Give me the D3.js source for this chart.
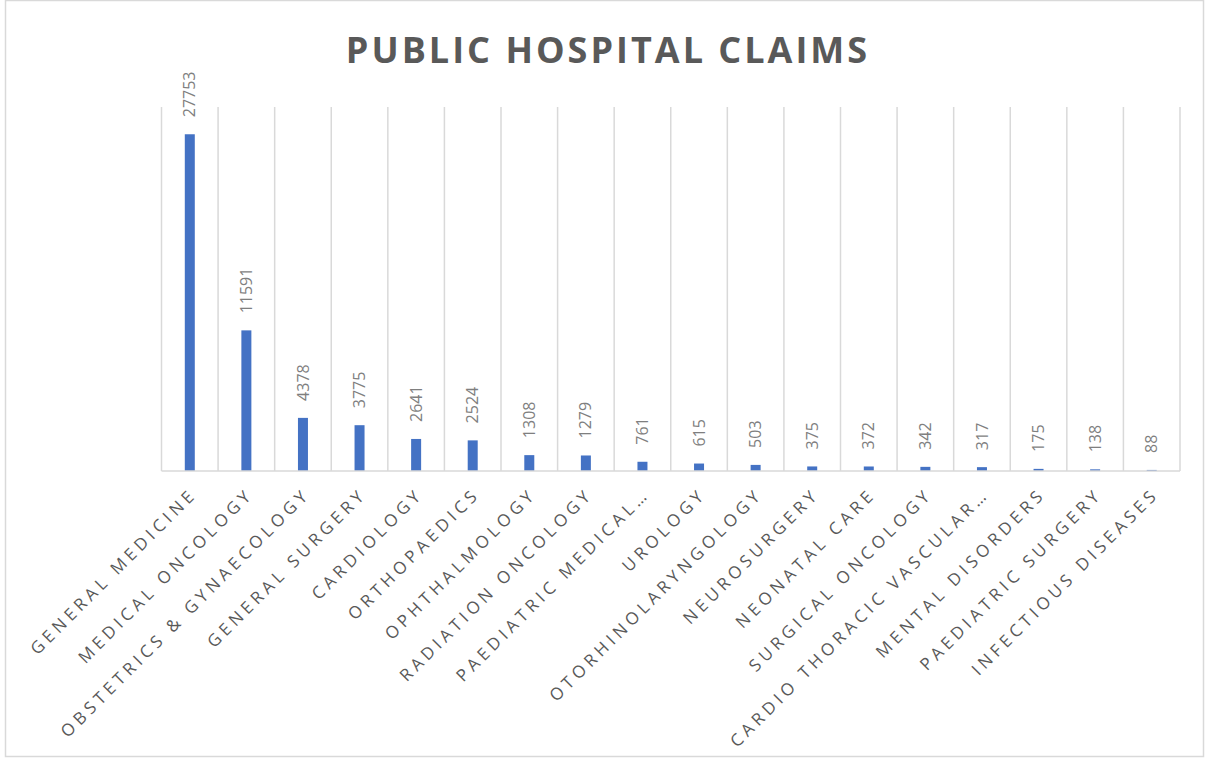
<!DOCTYPE html>
<html>
<head>
    <meta charset="utf-8">
    <title>Public Hospital Claims</title>
    <script src="https://d3js.org/d3.v7.min.js"></script>
    <style>
        body { margin: 0; background: #ffffff; }
        svg { display: block; font-family: "Open Sans", sans-serif; }
    </style>
</head>
<body>
    <svg width="1208" height="760"></svg>
    <script>
        // chart data
        const categories = [
            "GENERAL MEDICINE", "MEDICAL ONCOLOGY", "OBSTETRICS & GYNAECOLOGY",
            "GENERAL SURGERY", "CARDIOLOGY", "ORTHOPAEDICS", "OPHTHALMOLOGY",
            "RADIATION ONCOLOGY", "PAEDIATRIC MEDICAL…", "UROLOGY",
            "OTORHINOLARYNGOLOGY", "NEUROSURGERY", "NEONATAL CARE",
            "SURGICAL ONCOLOGY", "CARDIO THORACIC VASCULAR…", "MENTAL DISORDERS",
            "PAEDIATRIC SURGERY", "INFECTIOUS DISEASES"
        ];
        const claims = [27753, 11591, 4378, 3775, 2641, 2524, 1308, 1279, 761,
            615, 503, 375, 372, 342, 317, 175, 138, 88];
        const yMax = 30000;

        const svg = d3.select("svg");

        // outer chart border
        svg.append("rect")
            .attr("x", 5.5).attr("y", 0.5)
            .attr("width", 1198).attr("height", 756)
            .attr("fill", "white")
            .attr("stroke", "#d9d9d9")
            .attr("stroke-width", 1.5);

        // title
        svg.append("text")
            .attr("x", 608).attr("y", 63)
            .attr("text-anchor", "middle")
            .attr("fill", "#595959")
            .style("font-size", "36px")
            .style("font-weight", "bold")
            .style("letter-spacing", "3px")
            .text("PUBLIC HOSPITAL CLAIMS");

        // plot area
        const plotLeft = 161.5, plotRight = 1180, plotTop = 107, plotBottom = 471;

        const x = d3.scaleBand()
            .domain(categories)
            .range([plotLeft, plotRight]);

        const y = d3.scaleLinear()
            .domain([0, yMax])
            .range([plotBottom, plotTop]);

        // vertical gridlines between categories
        const edges = categories.map(c => x(c)).concat([plotRight]);
        svg.append("g").selectAll("line")
            .data(edges)
            .join("line")
            .attr("x1", d => d).attr("x2", d => d)
            .attr("y1", plotTop).attr("y2", plotBottom)
            .attr("stroke", "#d9d9d9")
            .attr("stroke-width", 1.5);

        // bars
        const barW = 10;
        svg.append("g").selectAll("rect")
            .data(claims)
            .join("rect")
            .attr("x", (d, i) => x(categories[i]) + x.bandwidth() / 2 - barW / 2)
            .attr("y", d => y(d))
            .attr("width", barW)
            .attr("height", d => plotBottom - y(d))
            .attr("fill", "#4472c4");

        // category axis line
        svg.append("line")
            .attr("x1", plotLeft).attr("x2", plotRight)
            .attr("y1", plotBottom).attr("y2", plotBottom)
            .attr("stroke", "#d9d9d9")
            .attr("stroke-width", 1.5);

        // value labels, rotated
        svg.append("g").selectAll("text")
            .data(claims)
            .join("text")
            .attr("transform", (d, i) => {
                const cx = x(categories[i]) + x.bandwidth() / 2;
                return `translate(${cx},${y(d) - 17}) rotate(-90)`;
            })
            .attr("dy", "0.35em")
            .attr("text-anchor", "start")
            .attr("fill", "#7f7f7f")
            .style("font-size", "16px")
            .text(d => d);

        // category labels at -45 degrees
        svg.append("g").selectAll("text")
            .data(categories)
            .join("text")
            .attr("transform", d => {
                const cx = x(d) + x.bandwidth() / 2;
                return `translate(${cx + 4},${plotBottom + 20}) rotate(-45)`;
            })
            .attr("dy", "0.35em")
            .attr("text-anchor", "end")
            .attr("fill", "#595959")
            .style("font-size", "17px")
            .style("letter-spacing", "4.3px")
            .text(d => d);
    </script>
</body>
</html>
